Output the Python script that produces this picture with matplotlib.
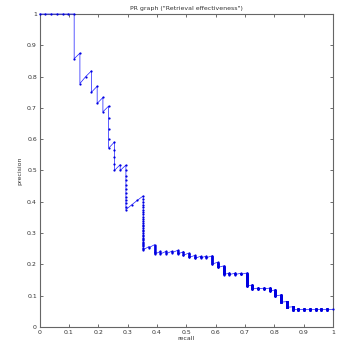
import numpy as np
import matplotlib
matplotlib.use("Agg")
import matplotlib.pyplot as plt

# Ranks (1-based) at which each relevant document was retrieved
total_relevant = 51
rel_ranks = [1, 2, 3, 4, 5, 6, 8, 10, 11, 13, 15, 17, 22, 27, 29, 41, 42, 43,
             74, 76, 87, 91, 95, 98, 104, 110, 118, 124, 128, 132, 150, 164,
             192, 198, 204, 209, 276, 306, 314, 322, 347, 412, 531, 684,
             796, 814, 832, 850, 867, 885, 903]

title_text = 'PR graph ("Retrieval effectiveness")'
xtick_vals = [0, 0.1, 0.2, 0.3, 0.4, 0.5, 0.6, 0.7, 0.8, 0.9, 1]
xtick_labels = ["0", "0.1", "0.2", "0.3", "0.4", "0.5", "0.6", "0.7", "0.8", "0.9", "1"]
ytick_vals = [0, 0.1, 0.2, 0.3, 0.4, 0.5, 0.6, 0.7, 0.8, 0.9, 1]
ytick_labels = ["0", "0.1", "0.2", "0.3", "0.4", "0.5", "0.6", "0.7", "0.8", "0.9", "1"]

# precision / recall at every rank
n_ranks = rel_ranks[-1]
is_rel = np.zeros(n_ranks, dtype=bool)
is_rel[np.array(rel_ranks) - 1] = True
found = np.cumsum(is_rel)
ranks = np.arange(1, n_ranks + 1)
recall = np.concatenate([[0.0], found / total_relevant])
precision = np.concatenate([[1.0], found / ranks])

fig = plt.figure(figsize=(3.39, 3.42), dpi=100)
ax = fig.add_axes([0.117, 0.044, 0.865, 0.915])
ax.plot(recall, precision, color="#1a1aff", linewidth=0.5, marker=".",
        markersize=3.2, markeredgewidth=0, markerfacecolor="#0000e0",
        clip_on=False, zorder=3)

ax.set_xlim(0, 1)
ax.set_ylim(0, 1)
ax.set_xticks(xtick_vals)
ax.set_xticklabels(xtick_labels)
ax.set_yticks(ytick_vals)
ax.set_yticklabels(ytick_labels)
ax.tick_params(direction="in", length=2.5, width=0.6, labelsize=4.5,
               top=True, right=True, colors="#555555", labelcolor="#333333", pad=2)
for s in ax.spines.values():
    s.set_color("#666666")
    s.set_linewidth(0.8)
ax.set_title(title_text, fontsize=4.5, color="#333333", pad=3)
ax.set_xlabel("recall", fontsize=4.5, color="#333333", labelpad=1)
ax.set_ylabel("precision", fontsize=4.5, color="#333333", labelpad=3)

fig.savefig("out.png", dpi=100)
